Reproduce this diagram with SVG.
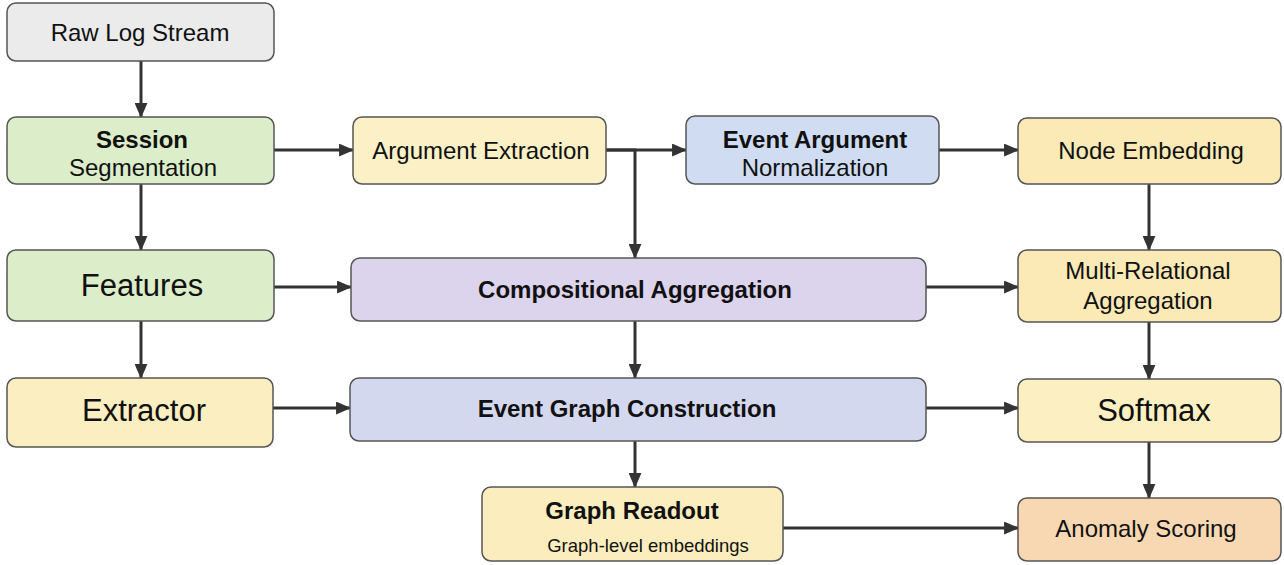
<svg xmlns="http://www.w3.org/2000/svg" width="1284" height="565" viewBox="0 0 1284 565">
<defs>
<marker id="ah" viewBox="0 0 14 12" refX="13" refY="6" markerWidth="15" markerHeight="13" markerUnits="userSpaceOnUse" orient="auto">
<path d="M0,0 L14,6 L0,12 Z" fill="#333"/>
</marker>
<style>
.box{stroke:#555;stroke-width:1.5}
.t{font-family:"Liberation Sans",Arial,sans-serif;font-size:24px;fill:#111;text-anchor:middle;dominant-baseline:central}
.b{font-weight:bold}
.big{font-size:31px}
.sm{font-size:18.5px}
.c{fill:none;stroke:#333;stroke-width:3;marker-end:url(#ah)}
</style>
</defs>
<rect width="1284" height="565" fill="#fff"/>
<g id="connectors">
<path class="c" d="M141,61 V117"/>
<path class="c" d="M141,184 V250"/>
<path class="c" d="M141,321 V378"/>
<path class="c" d="M274,150 H353"/>
<path class="c" d="M606,150 H686"/>
<path class="c" d="M606,150 H635 V258"/>
<path class="c" d="M939,150 H1018"/>
<path class="c" d="M1149,184 V250"/>
<path class="c" d="M274,287 H351"/>
<path class="c" d="M926,287 H1018"/>
<path class="c" d="M635,321 V378"/>
<path class="c" d="M1149,322 V379"/>
<path class="c" d="M273,408 H350"/>
<path class="c" d="M926,408 H1018"/>
<path class="c" d="M635,441 V487"/>
<path class="c" d="M1149,442 V498"/>
<path class="c" d="M783,528 H1018"/>
</g>
<g id="raw-log-stream">
<rect class="box" x="7" y="3" width="267" height="58" rx="9" fill="#ebebeb"/>
<text class="t" x="140" y="32">Raw Log Stream</text>
</g>
<g id="session-segmentation">
<rect class="box" x="7" y="117" width="267" height="67" rx="9" fill="#dcedc9"/>
<text class="t b" x="142" y="139">Session</text>
<text class="t" x="143" y="167">Segmentation</text>
</g>
<g id="features">
<rect class="box" x="7" y="250" width="267" height="71" rx="9" fill="#dcedc9"/>
<text class="t big" x="142" y="285">Features</text>
</g>
<g id="extractor">
<rect class="box" x="7" y="378" width="266" height="69" rx="9" fill="#fbefc2"/>
<text class="t big" x="144" y="410">Extractor</text>
</g>
<g id="argument-extraction">
<rect class="box" x="353" y="117" width="253" height="67" rx="9" fill="#fcf0c6"/>
<text class="t" x="481" y="150">Argument Extraction</text>
</g>
<g id="event-argument-normalization">
<rect class="box" x="686" y="116" width="253" height="68" rx="9" fill="#cfdcf2"/>
<text class="t b" x="815" y="139">Event Argument</text>
<text class="t" x="815" y="167">Normalization</text>
</g>
<g id="node-embedding">
<rect class="box" x="1018" y="118" width="263" height="66" rx="9" fill="#fbe9b6"/>
<text class="t" x="1151" y="150">Node Embedding</text>
</g>
<g id="compositional-aggregation">
<rect class="box" x="351" y="258" width="575" height="63" rx="9" fill="#dcd3ec"/>
<text class="t b" x="635" y="289">Compositional Aggregation</text>
</g>
<g id="multi-relational-aggregation">
<rect class="box" x="1018" y="250" width="263" height="72" rx="9" fill="#fbe9b6"/>
<text class="t" x="1148" y="270">Multi-Relational</text>
<text class="t" x="1148" y="300">Aggregation</text>
</g>
<g id="event-graph-construction">
<rect class="box" x="350" y="378" width="576" height="63" rx="9" fill="#d4d8ee"/>
<text class="t b" x="627" y="408">Event Graph Construction</text>
</g>
<g id="softmax">
<rect class="box" x="1018" y="379" width="263" height="63" rx="9" fill="#fcf0c2"/>
<text class="t big" x="1154" y="410">Softmax</text>
</g>
<g id="graph-readout">
<rect class="box" x="482" y="487" width="301" height="74" rx="9" fill="#fbedbd"/>
<text class="t b" x="632" y="510">Graph Readout</text>
<text class="t sm" x="648" y="545">Graph-level embeddings</text>
</g>
<g id="anomaly-scoring">
<rect class="box" x="1018" y="498" width="263" height="63" rx="9" fill="#f8d8b3"/>
<text class="t" x="1146" y="528">Anomaly Scoring</text>
</g>
</svg>
